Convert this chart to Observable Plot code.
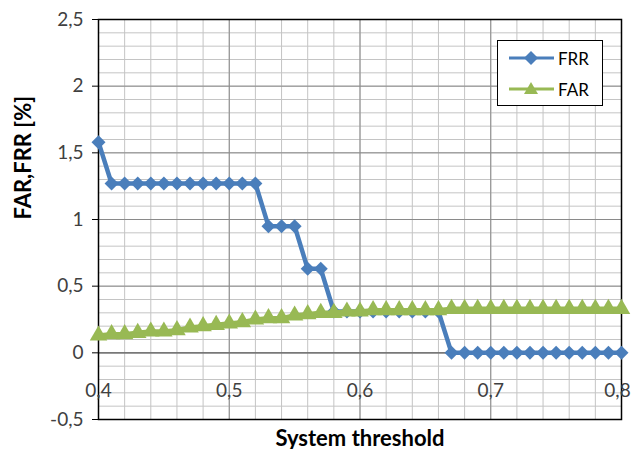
<!DOCTYPE html>
<html>
<head>
<meta charset="utf-8">
<script src="https://cdn.jsdelivr.net/npm/d3@7"></script>
<script src="https://cdn.jsdelivr.net/npm/@observablehq/plot@0.6"></script>
<style>
  html, body { margin: 0; padding: 0; background: #fff; }
  #wrap { position: relative; width: 633px; height: 449px; overflow: hidden; font-family: Lato, "Open Sans", sans-serif; }
  #legend { position: absolute; left: 497px; top: 40px; width: 104px; height: 64px; border: 1px solid #000; background: #fff; }
  #legend .row { position: absolute; left: 10px; height: 20px; display: flex; align-items: center; }
  #legend .row span { font-size: 17px; color: #000; margin-left: 2px; }
</style>
</head>
<body>
<div id="wrap"></div>
<script>
// Data
const thresholds = [0.40,0.41,0.42,0.43,0.44,0.45,0.46,0.47,0.48,0.49,0.50,0.51,0.52,0.53,0.54,0.55,0.56,0.57,0.58,0.59,0.60,0.61,0.62,0.63,0.64,0.65,0.66,0.67,0.68,0.69,0.70,0.71,0.72,0.73,0.74,0.75,0.76,0.77,0.78,0.79,0.80];
const frr = [1.58,1.27,1.27,1.27,1.27,1.27,1.27,1.27,1.27,1.27,1.27,1.27,1.27,0.95,0.95,0.95,0.63,0.63,0.31,0.31,0.31,0.31,0.31,0.31,0.31,0.31,0.31,0,0,0,0,0,0,0,0,0,0,0,0,0,0];
const far = [0.13,0.14,0.14,0.15,0.16,0.16,0.17,0.19,0.20,0.21,0.22,0.23,0.25,0.26,0.26,0.28,0.29,0.30,0.30,0.31,0.31,0.32,0.32,0.32,0.32,0.32,0.32,0.33,0.33,0.33,0.33,0.33,0.33,0.33,0.33,0.33,0.33,0.33,0.33,0.33,0.33];
const xTicks = [0.4, 0.5, 0.6, 0.7, 0.8];
const yTicks = [-0.5, 0, 0.5, 1, 1.5, 2, 2.5];
const xTitle = "System threshold";
const yTitle = "FAR,FRR [%]";
const seriesNames = ["FRR", "FAR"];
const colors = {FRR: "#4a7ebb", FAR: "#98b954"};

const xMinor = d3.range(0.4, 0.8001, 0.02);
const yMinor = d3.range(-0.5, 2.5001, 0.1);
const fmt = d => String(d).replace(".", ",");

const rows = thresholds.map((t, i) => ({t, frr: frr[i], far: far[i]}));

const chart = Plot.plot({
  width: 633,
  height: 449,
  marginLeft: 98,
  marginRight: 12,
  marginTop: 19,
  marginBottom: 30,
  style: {fontFamily: "Lato, 'Open Sans', sans-serif", background: "#fff", overflow: "visible"},
  x: {domain: [0.4, 0.8], axis: null},
  y: {domain: [-0.5, 2.5], axis: null},
  marks: [
    Plot.ruleX(xMinor, {stroke: "#c4c4c4", strokeWidth: 1}),
    Plot.ruleY(yMinor, {stroke: "#c4c4c4", strokeWidth: 1}),
    Plot.ruleX(xTicks, {stroke: "#8a8a8a", strokeWidth: 1}),
    Plot.ruleY(yTicks, {stroke: "#8a8a8a", strokeWidth: 1}),
    Plot.ruleY([0], {stroke: "#6a6a6a", strokeWidth: 1.2}),
    Plot.frame({stroke: "#000", strokeWidth: 1.5}),
    Plot.axisY({ticks: yTicks, tickFormat: fmt, tickSize: 6, tickPadding: 9, fontSize: 19, fill: "#404040", stroke: "#000", label: null}),
    Plot.text(xTicks.slice(0, -1), {x: d => d, y: 0, dy: 38, text: fmt, fontSize: 19, fill: "#404040"}),
    Plot.text(xTicks.slice(-1), {x: d => d, y: 0, dy: 38, dx: -4, text: fmt, fontSize: 19, fill: "#404040"}),
    Plot.line(rows, {x: "t", y: "frr", stroke: colors.FRR, strokeWidth: 4.5}),
    Plot.dot(rows, {x: "t", y: "frr", symbol: "diamond2", r: 6.3, fill: colors.FRR, stroke: "none"}),
    Plot.line(rows, {x: "t", y: "far", stroke: colors.FAR, strokeWidth: 4.5}),
    Plot.dot(rows, {x: "t", y: "far", symbol: "triangle", r: 6.5, fill: colors.FAR, stroke: "none"}),
    Plot.text([yTitle], {frameAnchor: "left", dx: -75, rotate: -90, text: d => d, fontSize: 22, fontWeight: "bold", fill: "#000"}),
    Plot.text([xTitle], {frameAnchor: "bottom", dy: 26, lineAnchor: "bottom", text: d => d, fontSize: 22, fontWeight: "bold", fill: "#000", letterSpacing: "0.06em"})
  ]
});

const wrap = document.getElementById("wrap");
wrap.appendChild(chart);

// Legend (HTML overlay)
const legend = document.createElement("div");
legend.id = "legend";
const symbols = {FRR: "M23 2 L30 9 L23 16 L16 9 Z", FAR: "M23 2 L30 14 L16 14 Z"};
seriesNames.forEach((name, i) => {
  const row = document.createElement("div");
  row.className = "row";
  row.style.top = (7 + i * 31) + "px";
  row.innerHTML = `<svg width="48" height="18"><line x1="1" x2="46" y1="9" y2="9" stroke="${colors[name]}" stroke-width="3"/><path d="${symbols[name]}" fill="${colors[name]}"/></svg><span>${name}</span>`;
  legend.appendChild(row);
});
wrap.appendChild(legend);
</script>
</body>
</html>
